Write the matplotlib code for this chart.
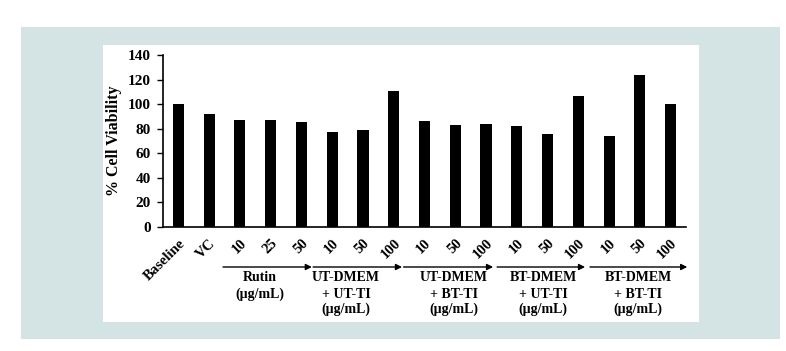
import matplotlib
matplotlib.use("Agg")
import matplotlib.pyplot as plt
import matplotlib.transforms as mtransforms
from matplotlib.patches import Rectangle

categories = ["Baseline", "VC", "10", "25", "50", "10", "50", "100",
              "10", "50", "100", "10", "50", "100", "10", "50", "100"]
values = [100, 92, 87, 87, 85.5, 77.5, 79, 111, 86.5, 83.3, 84,
          82.5, 76, 107, 74.3, 124, 100.4]
group_labels = [["Rutin", "(µg/mL)"],
                ["UT-DMEM", "+ UT-TI", "(µg/mL)"],
                ["UT-DMEM", "+ BT-TI", "(µg/mL)"],
                ["BT-DMEM", "+ UT-TI", "(µg/mL)"],
                ["BT-DMEM", "+ BT-TI", "(µg/mL)"]]
yticks = [0, 20, 40, 60, 80, 100, 120, 140]
ylabel = "% Cell Viability"

W, H = 786, 351
fig = plt.figure(figsize=(W / 100, H / 100), dpi=100)
fig.patch.set_facecolor("white")
fig.patches.append(Rectangle((21 / W, (H - 339) / H), (780 - 21) / W, (339 - 27) / H,
                             transform=fig.transFigure, facecolor="#d4e3e3",
                             edgecolor="none", zorder=-2))
fig.patches.append(Rectangle((103 / W, (H - 322) / H), (699 - 103) / W, (322 - 45) / H,
                             transform=fig.transFigure, facecolor="white",
                             edgecolor="none", zorder=-1))

ax = fig.add_axes([163 / W, 124 / H, (686 - 163) / W, 172 / H])
ax.patch.set_alpha(0)
font = dict(family="Liberation Serif", weight="bold")

x = list(range(len(values)))
ax.bar(x, values, width=0.36, color="black")
ax.set_xlim(-0.5, len(values) - 0.5)
ax.set_ylim(0, 140)
ax.set_yticks(yticks)
ax.set_yticklabels([str(t) for t in yticks], fontsize=11, **font)
ax.set_xticks(x)
ax.set_xticklabels(categories, rotation=45, ha="right", rotation_mode="anchor",
                   fontsize=10.5, **font)
ax.tick_params(axis="x", length=0, pad=7)
ax.tick_params(axis="y", length=4, width=1, direction="out", pad=5)
for s in ["top", "right"]:
    ax.spines[s].set_visible(False)
for s in ["left", "bottom"]:
    ax.spines[s].set_linewidth(1.2)
ax.set_ylabel(ylabel, fontsize=11.5, labelpad=4, **font)

trans = mtransforms.blended_transform_factory(ax.transData, ax.transAxes)
starts = [1.45, 4.38, 7.32, 10.36, 13.38]
ends = [4.34, 7.27, 10.23, 13.22, 16.54]
centers = [2.65, 5.45, 8.95, 11.85, 14.95]
y_arrow = (H - 267 - 124) / 172
line_y = [(H - py - 124) / 172 for py in (281, 297.5, 312.5)]
for s, e, c, lines in zip(starts, ends, centers, group_labels):
    ax.annotate("", xy=(e, y_arrow), xytext=(s, y_arrow), xycoords=trans,
                textcoords=trans, annotation_clip=False,
                arrowprops=dict(arrowstyle="-|>", color="black", lw=1,
                                mutation_scale=9, shrinkA=0, shrinkB=0))
    for i, t in enumerate(lines):
        ax.text(c, line_y[i], t, transform=trans, ha="center", va="baseline",
                fontsize=10, **font)

fig.savefig("out.png", dpi=100)
